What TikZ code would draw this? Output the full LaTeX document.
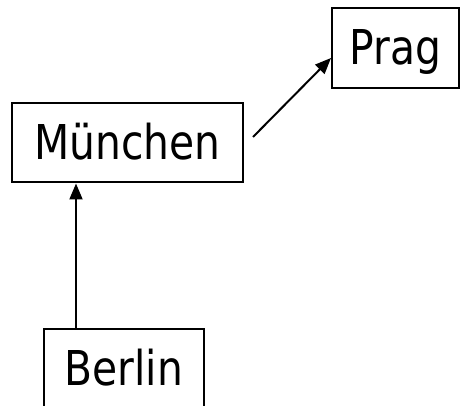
\documentclass[tikz,border=0pt]{standalone}
\usepackage{fontspec}
\newfontfamily\cityfont[FakeStretch=0.85]{DejaVu Sans}
\usetikzlibrary{arrows.meta}

\begin{document}
\begin{tikzpicture}[x=1pt, y=-1pt,
  city/.style={draw, line width=2pt, inner sep=0pt, minimum height=79pt,
    text height=34pt, text depth=0pt, font=\cityfont\fontsize{48}{52}\selectfont},
  link/.style={line width=2pt, -{Triangle[length=16pt,width=13pt]}}]
  \useasboundingbox (0,0) rectangle (464,406);
  % the three cities
  \node[city, minimum width=231pt] (muenchen) at (127.5,143) {München};
  \node[city, minimum width=127pt, minimum height=80pt] (prag) at (395.5,48) {Prag};
  \node[city, minimum width=160pt] (berlin) at (124,368.5) {Berlin};
  % routes
  \draw[link] ([xshift=-48pt]berlin.north) -- ([xshift=-48pt]berlin.north |- muenchen.south);
  \draw[link] ([xshift=9pt,yshift=6pt]muenchen.east) -- ([yshift=-10pt]prag.west);
\end{tikzpicture}
\end{document}
